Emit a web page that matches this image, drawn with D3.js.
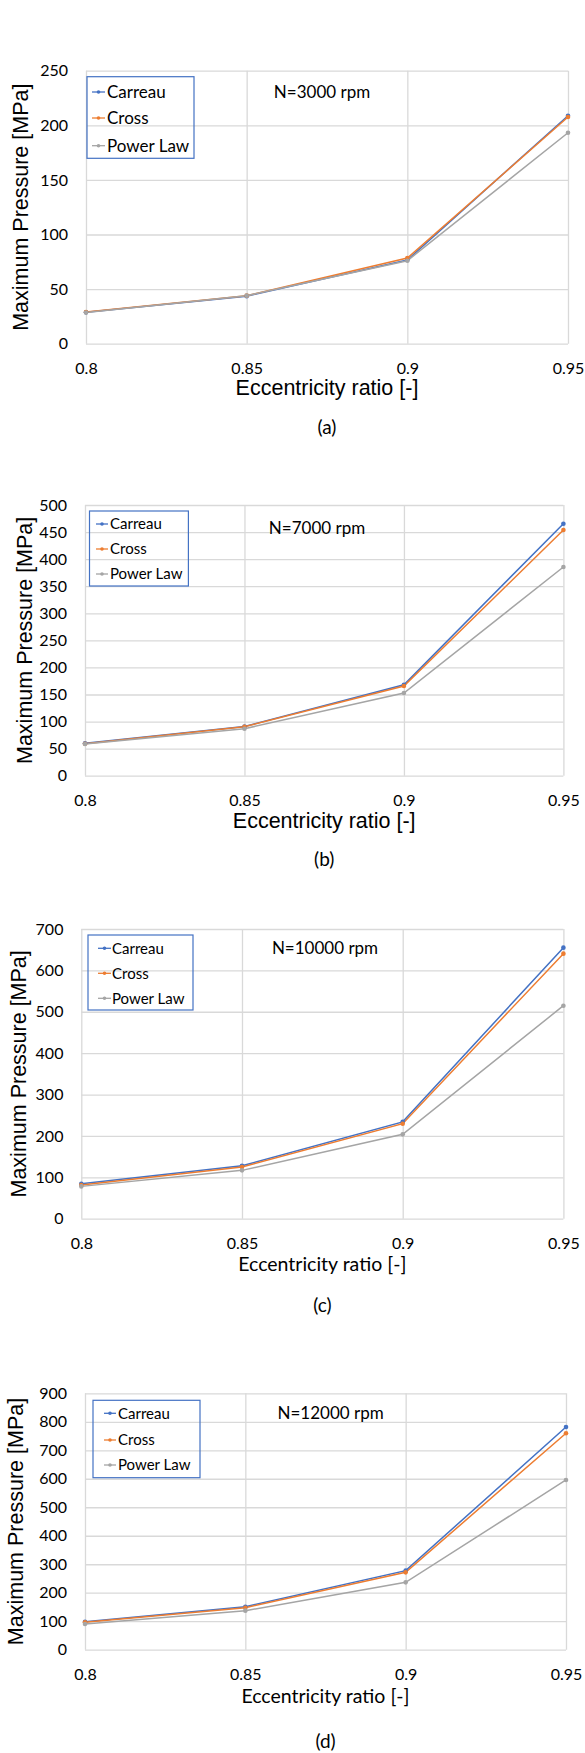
<!DOCTYPE html>
<html>
<head>
<meta charset="utf-8">
<script src="https://cdn.jsdelivr.net/npm/d3@7"></script>
<style>
  body { margin: 0; background: #fff; }
  svg { display: block; }
</style>
</head>
<body>
<div id="chart"></div>
<script>
// eccentricity ratios shared by all four panels
const eccentricity = [0.8, 0.85, 0.9, 0.95];
const seriesNames = ['Carreau', 'Cross', 'Power Law'];
const seriesColors = ['#4472C4', '#ED7D31', '#A5A5A5'];

// N = 3000 rpm
const carreau3000 = [28.7, 43.5, 76.6, 208.8];
const cross3000 = [29.0, 44.0, 78.4, 207.6];
const power3000 = [28.5, 44.0, 76.0, 193.2];
// N = 7000 rpm
const carreau7000 = [60, 91, 168, 465.5];
const cross7000 = [59, 90.5, 165.6, 453.8];
const power7000 = [58.5, 86.8, 152.7, 385.5];
// N = 10000 rpm
const carreau10000 = [84.6, 128, 234, 654.9];
const cross10000 = [81.4, 124.9, 229.6, 640.4];
const power10000 = [78.1, 116.8, 203.8, 514.7];
// N = 12000 rpm
const carreau12000 = [98.3, 151, 277.4, 781.8];
const cross12000 = [96, 147.5, 271.5, 759.6];
const power12000 = [90, 137, 236.4, 595.7];

const yTicks3000 = [0, 50, 100, 150, 200, 250];
const yTicks7000 = [0, 50, 100, 150, 200, 250, 300, 350, 400, 450, 500];
const yTicks10000 = [0, 100, 200, 300, 400, 500, 600, 700];
const yTicks12000 = [0, 100, 200, 300, 400, 500, 600, 700, 800, 900];

const panelNotes = ['N=3000 rpm', 'N=7000 rpm', 'N=10000 rpm', 'N=12000 rpm'];
const panelCaptions = ['(a)', '(b)', '(c)', '(d)'];
const xTitle = 'Eccentricity ratio [-]';
const yTitle = 'Maximum Pressure [MPa]';

// layout of each panel (pixels)
const panels = [
  {series: [carreau3000, cross3000, power3000], ticks: yTicks3000,
   left: 86, right: 568, top: 70.7, bottom: 343.7, tickRight: 68,
   xTickY: 368, xTitleY: 387, xTitleFont: 'Liberation Sans, Arial, sans-serif', xTitleSize: 21.5,
   capY: 427, yTitleX: 20, legend: {x0: 87, x1: 194, y0: 76.7, y1: 158.3, rows: [92, 118, 145.7], l0: 92, l1: 105, tx: 107, size: 17},
   noteX: 322, noteY: 91.7},
  {series: [carreau7000, cross7000, power7000], ticks: yTicks7000,
   left: 85, right: 563.4, top: 505, bottom: 775.7, tickRight: 67,
   xTickY: 800, xTitleY: 820, xTitleFont: 'Liberation Sans, Arial, sans-serif', xTitleSize: 21.5,
   capY: 859, yTitleX: 24, legend: {x0: 89.5, x1: 188.4, y0: 511, y1: 586, rows: [524, 549, 574], l0: 96, l1: 108, tx: 110, size: 15},
   noteX: 317, noteY: 527.7},
  {series: [carreau10000, cross10000, power10000], ticks: yTicks10000,
   left: 81.3, right: 563.4, top: 929, bottom: 1218.7, tickRight: 63.4,
   xTickY: 1243, xTitleY: 1264, xTitleFont: 'Lato, sans-serif', xTitleSize: 19.5,
   capY: 1305, yTitleX: 18.5, legend: {x0: 88, x1: 193, y0: 935, y1: 1010, rows: [948.3, 973.3, 998.3], l0: 98, l1: 111, tx: 112, size: 15},
   noteX: 325, noteY: 947.7},
  {series: [carreau12000, cross12000, power12000], ticks: yTicks12000,
   left: 85, right: 566, top: 1393.3, bottom: 1649.7, tickRight: 67,
   xTickY: 1674, xTitleY: 1696, xTitleFont: 'Lato, sans-serif', xTitleSize: 19.5,
   capY: 1741.7, yTitleX: 15, legend: {x0: 93, x1: 200, y0: 1400.3, y1: 1477.7, rows: [1413.3, 1440, 1465], l0: 104, l1: 116, tx: 118, size: 15},
   noteX: 330.6, noteY: 1413.3}
];

const svg = d3.select('#chart')
  .append('svg')
  .attr('width', 585)
  .attr('height', 1753);

panels.forEach((p, i) => {
  const g = svg.append('g');

  const x = d3.scaleLinear()
    .domain([eccentricity[0], eccentricity[eccentricity.length - 1]])
    .range([p.left, p.right]);
  const y = d3.scaleLinear()
    .domain([0, p.ticks[p.ticks.length - 1]])
    .range([p.bottom, p.top]);

  // horizontal gridlines + y tick labels
  const yAxis = g.append('g')
    .attr('transform', `translate(${p.left},0)`)
    .call(d3.axisLeft(y).tickValues(p.ticks).tickSize(-(p.right - p.left)).tickPadding(p.left - p.tickRight));
  yAxis.select('.domain').remove();
  yAxis.selectAll('line').attr('stroke', '#d9d9d9').attr('stroke-width', 1.3);
  yAxis.selectAll('text')
    .attr('font-family', 'Lato, sans-serif')
    .attr('font-size', 16)
    .attr('fill', '#000');

  // vertical gridlines + x tick labels
  const xAxis = g.append('g')
    .attr('transform', `translate(0,${p.bottom})`)
    .call(d3.axisBottom(x).tickValues(eccentricity).tickSize(-(p.bottom - p.top)).tickFormat(d3.format('')));
  xAxis.select('.domain').remove();
  xAxis.selectAll('line').attr('stroke', '#d9d9d9').attr('stroke-width', 1.3);
  xAxis.selectAll('text')
    .attr('y', p.xTickY - p.bottom)
    .attr('dy', '0.35em')
    .attr('font-family', 'Lato, sans-serif')
    .attr('font-size', 16)
    .attr('fill', '#000');

  // the three series
  const line = d3.line()
    .x((d, j) => x(eccentricity[j]))
    .y(d => y(d));

  p.series.forEach((vals, k) => {
    g.append('path')
      .datum(vals)
      .attr('fill', 'none')
      .attr('stroke', seriesColors[k])
      .attr('stroke-width', 1.5)
      .attr('d', line);
  });
  p.series.forEach((vals, k) => {
    g.selectAll(null)
      .data(vals)
      .enter()
      .append('circle')
      .attr('cx', (d, j) => x(eccentricity[j]))
      .attr('cy', d => y(d))
      .attr('r', 2.3)
      .attr('fill', seriesColors[k]);
  });

  // legend (transparent box, blue border)
  const lg = p.legend;
  g.append('rect')
    .attr('x', lg.x0)
    .attr('y', lg.y0)
    .attr('width', lg.x1 - lg.x0)
    .attr('height', lg.y1 - lg.y0)
    .attr('fill', 'none')
    .attr('stroke', '#4472C4')
    .attr('stroke-width', 1.2);
  seriesNames.forEach((name, k) => {
    const ry = lg.rows[k];
    g.append('line')
      .attr('x1', lg.l0).attr('x2', lg.l1)
      .attr('y1', ry).attr('y2', ry)
      .attr('stroke', seriesColors[k])
      .attr('stroke-width', 1.3);
    g.append('circle')
      .attr('cx', (lg.l0 + lg.l1) / 2)
      .attr('cy', ry)
      .attr('r', 1.8)
      .attr('fill', seriesColors[k]);
    g.append('text')
      .attr('x', lg.tx)
      .attr('y', ry)
      .attr('dy', '0.35em')
      .attr('font-family', 'Lato, sans-serif')
      .attr('font-size', lg.size)
      .text(name);
  });

  // speed note
  g.append('text')
    .attr('x', p.noteX)
    .attr('y', p.noteY)
    .attr('dy', '0.35em')
    .attr('text-anchor', 'middle')
    .attr('font-family', 'Lato, sans-serif')
    .attr('font-size', 17)
    .text(panelNotes[i]);

  // axis titles
  g.append('text')
    .attr('x', (p.left + p.right) / 2)
    .attr('y', p.xTitleY)
    .attr('dy', '0.35em')
    .attr('text-anchor', 'middle')
    .attr('font-family', p.xTitleFont)
    .attr('font-size', p.xTitleSize)
    .text(xTitle);

  g.append('text')
    .attr('transform', `translate(${p.yTitleX},${(p.top + p.bottom) / 2}) rotate(-90)`)
    .attr('dy', '0.35em')
    .attr('text-anchor', 'middle')
    .attr('font-family', 'Liberation Sans, Arial, sans-serif')
    .attr('font-size', 21.5)
    .text(yTitle);

  // panel caption
  g.append('text')
    .attr('x', (p.left + p.right) / 2)
    .attr('y', p.capY)
    .attr('dy', '0.35em')
    .attr('text-anchor', 'middle')
    .attr('font-family', 'Lato, sans-serif')
    .attr('font-size', 19)
    .text(panelCaptions[i]);
});
</script>
</body>
</html>
